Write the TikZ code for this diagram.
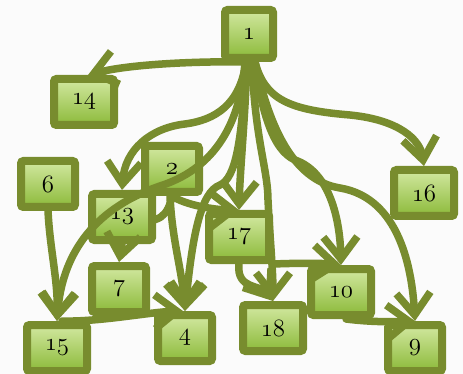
\documentclass[tikz,border=0pt]{standalone}
\usepackage{amsmath}
\usepackage{tikz}
\usetikzlibrary{arrows.meta,shadows}

\definecolor{leaf}{RGB}{120,140,46}
\definecolor{boxtop}{RGB}{210,232,160}
\definecolor{boxbot}{RGB}{140,186,58}

\pgfdeclarelayer{background}
\pgfsetlayers{background,main}

\tikzset{
  box/.style={draw=leaf, line width=8pt, rounded corners=2.5pt,
    minimum width=54pt, minimum height=46pt, inner sep=0pt,
    top color=boxtop, bottom color=boxbot,
    drop shadow={opacity=0.3, shadow xshift=2pt, shadow yshift=-3pt},
    font=\fontsize{23}{24}\selectfont},
  wide/.style={minimum width=60pt},
  link/.style={draw=leaf, line width=7.5pt, line cap=round,
    -{Straight Barb[length=22pt,width=34pt]}}
}

\begin{document}
\begin{tikzpicture}[x=1pt,y=-1pt]
    \useasboundingbox (0,0) rectangle (463,374);

    % boxes (old style figures)
    \node[box, minimum width=48pt, minimum height=48pt] (n1) at (249,34) {$\mathnormal{1}$};
    \node[box, wide] (n14) at (84,102) {$\mathnormal{14}$};
    \node[box] (n6) at (48,184) {$\mathnormal{6}$};
    \node[box] (n2) at (172,169) {$\mathnormal{2}$};
    \node[box, wide] (n13) at (122,217) {$\mathnormal{13}$};
    \node[box, wide] (n16) at (424,193) {$\mathnormal{16}$};
    \node[box, wide] (n17) at (239,237) {$\mathnormal{17}$};
    \node[box] (n7) at (119,289) {$\mathnormal{7}$};
    \node[box, wide] (n15) at (57,348) {$\mathnormal{15}$};
    \node[box] (n4) at (185,338) {$\mathnormal{4}$};
    \node[box, wide] (n18) at (273,328) {$\mathnormal{18}$};
    \node[box, wide] (n10) at (341,292) {$\mathnormal{10}$};
    \node[box] (n9) at (415,348) {$\mathnormal{9}$};

    \begin{pgfonlayer}{background}
      \fill[white!97!gray] (0,0) rectangle (463,374);
      % this one runs under 13
      \draw[link] (n2.south) .. controls (168,215) and (160,225) .. (n13.center);
    \end{pgfonlayer}

    % out of 1
    \draw[link] (n1.south) .. controls (200,61) and (130,64) .. ([xshift=4pt]n14.north);
    \draw[link] ([xshift=-3pt]n1.south) .. controls (240,105) and (215,120) .. (185,124)
        .. controls (150,128) and (125,150) .. (n13.north);
    \draw[link] ([xshift=-4pt]n1.south) .. controls (240,130) and (210,170) .. (160,186)
        .. controls (90,210) and (62,258) .. (n15.north);
    \draw[link] ([xshift=-2pt]n1.south) .. controls (245,120) and (240,170) .. (n17.north);
    \draw[link] ([xshift=-3pt]n1.south) .. controls (242,140) and (236,178) .. (220,185)
        .. controls (200,192) and (192,240) .. (n4.north);
    \draw[link] ([xshift=3pt]n1.south) .. controls (255,140) and (268,170) .. (268,200)
        .. controls (270,240) and (273,270) .. (n18.north);
    \draw[link] ([xshift=5pt]n1.south) .. controls (262,110) and (272,150) .. (295,160)
        .. controls (330,172) and (340,220) .. (n10.north);
    \draw[link] ([xshift=6pt]n1.south) .. controls (268,120) and (290,180) .. (340,188)
        .. controls (400,198) and (412,270) .. (n9.north);
    \draw[link] ([xshift=6pt]n1.south) .. controls (265,100) and (290,110) .. (350,115)
        .. controls (400,120) and (420,140) .. (n16.north);

    % the rest
    \draw[link] (n6.south) .. controls (50,250) and (58,280) .. (n15.north);
    \draw[link] (n2.south) .. controls (185,205) and (215,210) .. (n17.north);
    \draw[link] ([xshift=-2pt]n2.south) .. controls (172,240) and (182,270) .. (n4.north);
    \draw[link] (n13.south) -- (n7.north);
    \draw[link] ([xshift=5pt]n15.north) .. controls (100,322) and (150,312) .. ([xshift=-2pt]n4.north);
    \draw[link] (n17.south) .. controls (236,290) and (262,285) .. (n18.north);
    \draw[link] (n17.south east) .. controls (300,263) and (320,263) .. (n10.north);
    \draw[link] ([xshift=5pt]n10.south) .. controls (370,322) and (390,322) .. (n9.north);
\end{tikzpicture}
\end{document}
